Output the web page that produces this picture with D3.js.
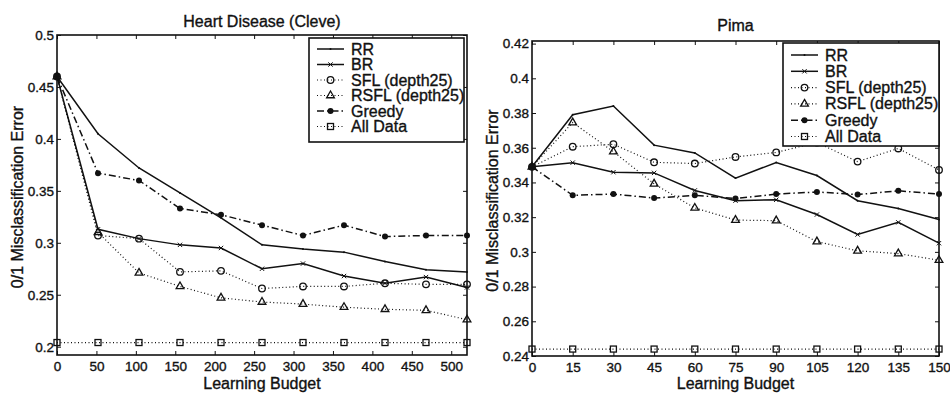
<!DOCTYPE html>
<html>
<head>
<meta charset="utf-8">
<script src="https://cdn.jsdelivr.net/npm/d3@7"></script>
<style>
  body { margin: 0; background: #fff; }
  svg { font-family: "Liberation Sans", Arial, sans-serif; }
  svg text { stroke: #111; stroke-width: 0.35px; fill: #111; }
</style>
</head>
<body>
<svg id="chart" width="950" height="393"></svg>
<script>
// series names, shared by both panels
const seriesNames = ["RR", "BR", "SFL (depth25)", "RSFL (depth25)", "Greedy", "All Data"];

// Heart Disease (Cleve)
const cleveBudget = [0, 52, 104, 156, 208, 260, 312, 364, 416, 468, 520];
const cleveTicks = [0, 50, 100, 150, 200, 250, 300, 350, 400, 450, 500];
const cleveYTicks = [0.2, 0.25, 0.3, 0.35, 0.4, 0.45, 0.5];
const cleveRR     = [0.460, 0.405, 0.372, 0.348, 0.324, 0.298, 0.294, 0.291, 0.282, 0.274, 0.272];
const cleveBR     = [0.460, 0.313, 0.304, 0.298, 0.295, 0.275, 0.280, 0.268, 0.261, 0.267, 0.257];
const cleveSFL    = [0.460, 0.307, 0.304, 0.272, 0.273, 0.256, 0.258, 0.258, 0.261, 0.260, 0.260];
const cleveRSFL   = [0.460, 0.310, 0.271, 0.258, 0.247, 0.243, 0.241, 0.238, 0.236, 0.235, 0.226];
const cleveGreedy = [0.460, 0.367, 0.360, 0.333, 0.327, 0.317, 0.307, 0.317, 0.306, 0.307, 0.307];
const cleveAll    = [0.204, 0.204, 0.204, 0.204, 0.204, 0.204, 0.204, 0.204, 0.204, 0.204, 0.204];

// Pima
const pimaBudget = [0, 15, 30, 45, 60, 75, 90, 105, 120, 135, 150];
const pimaTicks = [0, 15, 30, 45, 60, 75, 90, 105, 120, 135, 150];
const pimaYTicks = [0.24, 0.26, 0.28, 0.3, 0.32, 0.34, 0.36, 0.38, 0.4, 0.42];
const pimaRR     = [0.349, 0.379, 0.384, 0.3615, 0.357, 0.3425, 0.3515, 0.344, 0.3295, 0.325, 0.3187];
const pimaBR     = [0.349, 0.3514, 0.3459, 0.3455, 0.3354, 0.3295, 0.330, 0.3215, 0.310, 0.317, 0.305];
const pimaSFL    = [0.349, 0.3606, 0.362, 0.3516, 0.3509, 0.3547, 0.3573, 0.363, 0.352, 0.3596, 0.3472];
const pimaRSFL   = [0.349, 0.3745, 0.3577, 0.3392, 0.3253, 0.3183, 0.318, 0.3059, 0.3006, 0.299, 0.2952];
const pimaGreedy = [0.349, 0.3326, 0.3333, 0.331, 0.3326, 0.3307, 0.3333, 0.3345, 0.333, 0.3352, 0.3333];
const pimaAll    = [0.244, 0.244, 0.244, 0.244, 0.244, 0.244, 0.244, 0.244, 0.244, 0.244, 0.244];

// line look for each series
const styles = {
  "RR":             { dash: null,            width: 1.5, marker: "dot" },
  "BR":             { dash: null,            width: 1.5, marker: "star" },
  "SFL (depth25)":  { dash: "1,2.5",         width: 1.2, marker: "circle" },
  "RSFL (depth25)": { dash: "1,2.5",         width: 1.2, marker: "triangle" },
  "Greedy":         { dash: "7,3,1.5,3",     width: 1.5, marker: "fill" },
  "All Data":       { dash: "1,2.5",         width: 1.2, marker: "square" }
};

const svg = d3.select("#chart");

function drawMarker(g, kind, cx, cy) {
  if (kind === "circle") {
    g.append("circle").attr("cx", cx).attr("cy", cy).attr("r", 3.3)
      .attr("fill", "none").attr("stroke", "#111").attr("stroke-width", 1.3);
  } else if (kind === "triangle") {
    g.append("path").attr("d", d3.symbol(d3.symbolTriangle, 26)())
      .attr("transform", `translate(${cx},${cy})`)
      .attr("fill", "none").attr("stroke", "#111").attr("stroke-width", 1.3);
  } else if (kind === "square") {
    g.append("rect").attr("x", cx - 3).attr("y", cy - 3).attr("width", 6).attr("height", 6)
      .attr("fill", "none").attr("stroke", "#111").attr("stroke-width", 1.3);
  } else if (kind === "fill") {
    g.append("circle").attr("cx", cx).attr("cy", cy).attr("r", 3)
      .attr("fill", "#111");
  } else if (kind === "star") {
    g.append("path").attr("d", d3.symbol(d3.symbolTimes, 14)())
      .attr("transform", `translate(${cx},${cy})`)
      .attr("fill", "none").attr("stroke", "#111").attr("stroke-width", 1);
  } else if (kind === "dot") {
    g.append("circle").attr("cx", cx).attr("cy", cy).attr("r", 1)
      .attr("fill", "#111");
  }
}

function drawPanel(p) {
  const x = d3.scaleLinear().domain(p.xDomain).range([p.left, p.right]);
  const y = d3.scaleLinear().domain(p.yDomain).range([p.bottom, p.top]);
  const g = svg.append("g");

  // title
  g.append("text")
    .attr("x", (p.left + p.right) / 2).attr("y", p.titleY)
    .attr("text-anchor", "middle").attr("font-size", 16)
    .text(p.title);

  // axes with inward ticks, mirrored top and right
  g.append("g").attr("transform", `translate(0,${p.bottom})`)
    .call(d3.axisBottom(x).tickValues(p.xTicks).tickSizeInner(-4).tickSizeOuter(0).tickPadding(6))
    .call(a => a.select(".domain").remove());
  g.append("g").attr("transform", `translate(0,${p.top})`)
    .call(d3.axisTop(x).tickValues(p.xTicks).tickSizeInner(-4).tickSizeOuter(0).tickFormat(""))
    .call(a => a.select(".domain").remove());
  g.append("g").attr("transform", `translate(${p.left},0)`)
    .call(d3.axisLeft(y).tickValues(p.yTicks).tickSizeInner(-4).tickSizeOuter(0).tickPadding(3)
      .tickFormat(d => String(+d.toFixed(2))))
    .call(a => a.select(".domain").remove());
  g.append("g").attr("transform", `translate(${p.right},0)`)
    .call(d3.axisRight(y).tickValues(p.yTicks).tickSizeInner(-4).tickSizeOuter(0).tickFormat(""))
    .call(a => a.select(".domain").remove());

  g.selectAll(".tick line").attr("stroke", "#111").attr("stroke-width", 1);
  g.selectAll(".tick text").attr("font-size", 13.5).attr("fill", "#111")
    .attr("font-family", "Liberation Sans, Arial, sans-serif");

  // series
  p.series.forEach(s => {
    const st = styles[s.name];
    const pts = p.budget.map((b, i) => [x(b), y(s.values[i])]);
    g.append("path")
      .attr("d", d3.line()(pts))
      .attr("fill", "none").attr("stroke", "#111")
      .attr("stroke-width", st.width)
      .attr("stroke-dasharray", st.dash);
    const mg = g.append("g");
    pts.forEach(pt => drawMarker(mg, st.marker, pt[0], pt[1]));
  });

  // box
  g.append("rect")
    .attr("x", p.left).attr("y", p.top)
    .attr("width", p.right - p.left).attr("height", p.bottom - p.top)
    .attr("fill", "none").attr("stroke", "#111").attr("stroke-width", 1.6);

  // legend
  const lg = g.append("g");
  lg.append("rect")
    .attr("x", p.legend.x).attr("y", p.legend.y)
    .attr("width", p.legend.w).attr("height", p.legend.h)
    .attr("fill", "#fff").attr("stroke", "#111").attr("stroke-width", 1.6);
  seriesNames.forEach((name, i) => {
    const st = styles[name];
    const ry = p.legend.row0 + i * p.legend.step;
    const lx0 = p.legend.x + 8, lx1 = p.legend.x + 35;
    lg.append("line")
      .attr("x1", lx0).attr("x2", lx1).attr("y1", ry).attr("y2", ry)
      .attr("stroke", "#111").attr("stroke-width", st.width)
      .attr("stroke-dasharray", st.dash);
    drawMarker(lg, st.marker, (lx0 + lx1) / 2, ry);
    lg.append("text")
      .attr("x", p.legend.x + 42).attr("y", ry + 5.5)
      .attr("font-size", 16)
      .text(name);
  });

  // axis labels
  g.append("text")
    .attr("x", (p.left + p.right) / 2).attr("y", 389)
    .attr("text-anchor", "middle").attr("font-size", 16)
    .text("Learning Budget");
  g.append("text")
    .attr("transform", `translate(${p.yLabelX},${(p.top + p.bottom) / 2 + 2}) rotate(-90)`)
    .attr("text-anchor", "middle").attr("font-size", 16)
    .text("0/1 Misclassification Error");
}

drawPanel({
  title: "Heart Disease (Cleve)", titleY: 27,
  left: 57, right: 467, top: 35, bottom: 355,
  xDomain: [0, 520], yDomain: [0.192, 0.5],
  xTicks: cleveTicks, yTicks: cleveYTicks,
  budget: cleveBudget,
  yLabelX: 23,
  series: [
    { name: "RR", values: cleveRR },
    { name: "BR", values: cleveBR },
    { name: "SFL (depth25)", values: cleveSFL },
    { name: "RSFL (depth25)", values: cleveRSFL },
    { name: "Greedy", values: cleveGreedy },
    { name: "All Data", values: cleveAll }
  ],
  legend: { x: 309, y: 38, w: 155, h: 104, row0: 49, step: 15.5 }
});

drawPanel({
  title: "Pima", titleY: 31,
  left: 532, right: 939, top: 41, bottom: 356,
  xDomain: [0, 150], yDomain: [0.24, 0.4215],
  xTicks: pimaTicks, yTicks: pimaYTicks,
  budget: pimaBudget,
  yLabelX: 498,
  series: [
    { name: "RR", values: pimaRR },
    { name: "BR", values: pimaBR },
    { name: "SFL (depth25)", values: pimaSFL },
    { name: "RSFL (depth25)", values: pimaRSFL },
    { name: "Greedy", values: pimaGreedy },
    { name: "All Data", values: pimaAll }
  ],
  legend: { x: 783, y: 43, w: 156, h: 103, row0: 55, step: 16.3 }
});
</script>
</body>
</html>
